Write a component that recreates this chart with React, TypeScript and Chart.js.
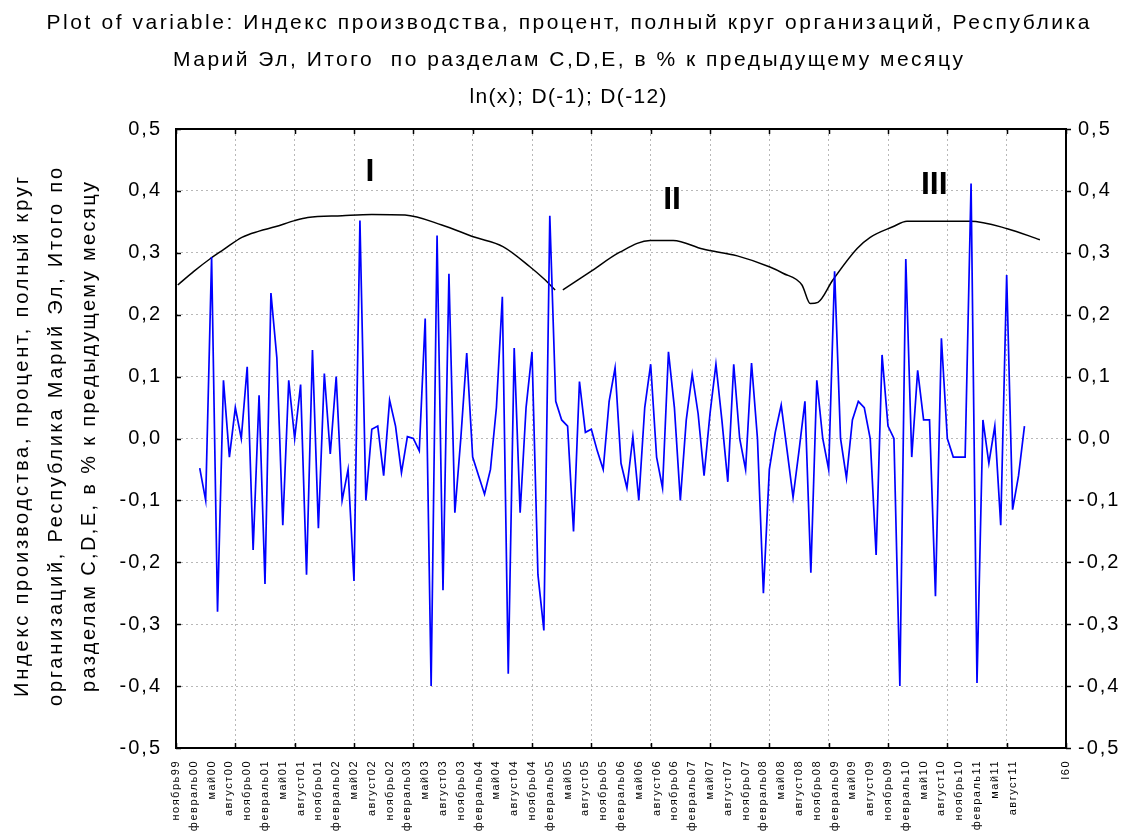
import React, { useEffect, useRef } from 'react';
import { Chart, registerables } from 'chart.js';

Chart.register(...registerables);

// ---------------- data ----------------
const titleLines = [
  'Plot of variable: Индекс производства, процент, полный круг организаций, Республика',
  'Марий Эл, Итого  по разделам C,D,E, в % к предыдущему месяцу',
  'ln(x); D(-1); D(-12)',
];

const yTitleLines = [
  'Индекс производства, процент, полный круг',
  'организаций, Республика Марий Эл, Итого по',
  'разделам C,D,E, в % к предыдущему месяцу',
];

const monthLabels = [
  'ноябрь99', 'февраль00', 'май00', 'август00',
  'ноябрь00', 'февраль01', 'май01', 'август01',
  'ноябрь01', 'февраль02', 'май02', 'август02',
  'ноябрь02', 'февраль03', 'май03', 'август03',
  'ноябрь03', 'февраль04', 'май04', 'август04',
  'ноябрь04', 'февраль05', 'май05', 'август05',
  'ноябрь05', 'февраль06', 'май06', 'август06',
  'ноябрь06', 'февраль07', 'май07', 'август07',
  'ноябрь07', 'февраль08', 'май08', 'август08',
  'ноябрь08', 'февраль09', 'май09', 'август09',
  'ноябрь09', 'февраль10', 'май10', 'август10',
  'ноябрь10', 'февраль11', 'май11', 'август11',
];
const monthLabelStart = 0;
const monthLabelStep = 3;
const endLabel = 'I60';
const endLabelPos = 150;

const xMin = 0;
const xMax = 150;
const xGridStep = 10;

const yMin = -0.5;
const yMax = 0.5;
const yStep = 0.1;

// monthly series (first case index = seriesStart)
const seriesStart = 4;
const seriesValues = [
  -0.048, -0.10, 0.293, -0.28, 0.094, -0.03, 0.05, 0.00, 0.116, -0.18,
  0.07, -0.235, 0.235, 0.13, -0.14, 0.094, 0.00, 0.087, -0.22, 0.143,
  -0.145, 0.105, -0.025, 0.10, -0.10, -0.05, -0.23, 0.352, -0.10, 0.015,
  0.02, -0.06, 0.062, 0.02, -0.055, 0.003, 0.00, -0.02, 0.194, -0.40,
  0.328, -0.245, 0.266, -0.12, 0.00, 0.138, -0.03, -0.06, -0.09, -0.05,
  0.05, 0.229, -0.38, 0.146, -0.12, 0.05, 0.14, -0.22, -0.31, 0.36,
  0.06, 0.03, 0.02, -0.15, 0.092, 0.01, 0.015, -0.02, -0.05, 0.06,
  0.114, -0.04, -0.08, 0.003, -0.10, 0.05, 0.12, -0.03, -0.08, 0.14,
  0.05, -0.10, 0.03, 0.104, 0.04, -0.06, 0.04, 0.12, 0.03, -0.07,
  0.12, 0.00, -0.05, 0.122, 0.00, -0.25, -0.05, 0.01, 0.054, -0.02,
  -0.095, -0.02, 0.06, -0.217, 0.094, 0.00, -0.05, 0.27, 0.00, -0.064,
  0.03, 0.06, 0.05, 0.00, -0.188, 0.135, 0.02, 0.00, -0.40, 0.29,
  -0.03, 0.11, 0.03, 0.03, -0.255, 0.162, 0.00, -0.03, -0.03, -0.03,
  0.412, -0.395, 0.03, -0.04, 0.02, -0.14, 0.264, -0.115, -0.06, 0.02,
];

// smooth black envelope curve (null = break)
const envelopeX = [
  0.3, 3, 5.7, 8, 11.1, 14, 16.7, 20, 22.2, 28, 33, 38.6, 44.8, 50.4, 55.1, 59.7, 62, 63.9,
  64.5,
  65.2, 69.8, 74.8, 79.9, 83.8, 88.8, 94.6, 100.1, 102.3, 105.5, 106.9, 108.2, 110.7,
  114.8, 117, 120.8, 123.2, 133.8, 140.1, 145.6,
];
const envelopeY = [
  0.248, 0.27, 0.29, 0.305, 0.325, 0.335, 0.342, 0.352, 0.357, 0.36, 0.362, 0.361, 0.345, 0.325, 0.31, 0.277, 0.258, 0.24,
  null,
  0.24, 0.269, 0.301, 0.32, 0.32, 0.306, 0.295, 0.277, 0.267, 0.248, 0.218, 0.22, 0.256,
  0.307, 0.325, 0.342, 0.351, 0.351, 0.339, 0.321,
];

const regionLabels = ['I', 'II', 'III'];
const regionX = [32.7, 83.6, 127.8];
const regionY = [0.43, 0.385, 0.41];

// ---------------- helpers ----------------
const FONT = "'Liberation Sans', Arial, sans-serif";

const labelPositions: number[] = monthLabels.map((_, i) => monthLabelStart + i * monthLabelStep).concat([endLabelPos]);
const labelTexts: string[] = monthLabels.concat([endLabel]);

function fmt(v: number) {
  if (Math.abs(v) < 1e-9) return '0,0';
  return v.toFixed(1).replace('.', ',');
}

function wrapSpacing(scale: any, ls: string) {
  if (scale.__wrapped) return;
  const orig = scale.drawLabels.bind(scale);
  scale.drawLabels = (area: any) => {
    const c = scale.ctx;
    const prev = c.letterSpacing;
    c.letterSpacing = ls;
    orig(area);
    c.letterSpacing = prev || '0px';
  };
  scale.__wrapped = true;
}

function drawSpaced(ctx: any, text: string, cx: number, cy: number, target: number) {
  ctx.letterSpacing = '0px';
  const w0 = ctx.measureText(text).width;
  const n = Math.max(1, text.length - 1);
  const ls = Math.max(0, (target - w0) / n);
  ctx.letterSpacing = ls + 'px';
  ctx.textAlign = 'left';
  ctx.fillText(text, cx - target / 2, cy);
  ctx.letterSpacing = '0px';
}

const decorPlugin = {
  id: 'decor',
  afterDraw(chart: any) {
    const { ctx, chartArea: a, scales } = chart;
    ctx.save();
    // frame
    ctx.strokeStyle = '#000';
    ctx.lineWidth = 2;
    ctx.strokeRect(a.left, a.top, a.right - a.left, a.bottom - a.top);
    // tick marks
    ctx.lineWidth = 1.5;
    ctx.beginPath();
    const yS = scales.y;
    for (const t of yS.ticks) {
      const py = Math.round(yS.getPixelForValue(t.value)) + 0.5;
      ctx.moveTo(a.left, py);
      ctx.lineTo(a.left + 5, py);
      ctx.moveTo(a.right, py);
      ctx.lineTo(a.right + 5, py);
    }
    const gS = scales.xg;
    for (const t of gS.ticks) {
      const px = Math.round(gS.getPixelForValue(t.value)) + 0.5;
      ctx.moveTo(px, a.top);
      ctx.lineTo(px, a.top + 5);
      ctx.moveTo(px, a.bottom);
      ctx.lineTo(px, a.bottom - 5);
    }
    ctx.stroke();

    // region labels
    ctx.fillStyle = '#000';
    ctx.font = `bold 32px ${FONT}`;
    ctx.textAlign = 'center';
    ctx.textBaseline = 'middle';
    regionLabels.forEach((lab, i) => {
      ctx.fillText(lab, scales.x.getPixelForValue(regionX[i]), yS.getPixelForValue(regionY[i]));
    });

    // title
    ctx.font = `21px ${FONT}`;
    ctx.textBaseline = 'middle';
    const tY = [23, 60, 97];
    const tW = [1043, 790, 197];
    titleLines.forEach((line, i) => drawSpaced(ctx, line, 568, tY[i], tW[i]));

    // y-axis title
    ctx.font = `20px ${FONT}`;
    const yX = [22, 56, 89];
    const yW = [520, 538, 510];
    yTitleLines.forEach((line, i) => {
      ctx.save();
      ctx.translate(yX[i], 437);
      ctx.rotate(-Math.PI / 2);
      drawSpaced(ctx, line, 0, 0, yW[i]);
      ctx.restore();
    });
    ctx.restore();
  },
};

export default function App() {
  const ref = useRef<HTMLCanvasElement | null>(null);

  useEffect(() => {
    document.body.style.margin = '0';
    const canvas = ref.current;
    if (!canvas) return;

    const seriesData = seriesValues.map((v, i) => ({ x: seriesStart + i, y: v }));
    const envData = envelopeX.map((x, i) => ({ x, y: envelopeY[i] }));

    const chart = new Chart(canvas, {
      type: 'line',
      data: {
        datasets: [
          {
            data: seriesData as any,
            borderColor: '#0000ff',
            borderWidth: 1.7,
            pointRadius: 0,
            tension: 0,
            xAxisID: 'x',
            yAxisID: 'y',
          },
          {
            data: envData as any,
            borderColor: '#000000',
            borderWidth: 1.5,
            pointRadius: 0,
            tension: 0.4,
            cubicInterpolationMode: 'monotone',
            spanGaps: false,
            xAxisID: 'x',
            yAxisID: 'y',
          },
        ],
      },
      options: {
        responsive: false,
        animation: false,
        events: [],
        layout: { padding: { top: 129, left: 0, right: 0, bottom: 0 } },
        plugins: {
          legend: { display: false },
          title: { display: false },
          tooltip: { enabled: false },
        },
        scales: {
          x: {
            type: 'linear',
            position: 'bottom',
            min: xMin,
            max: xMax,
            afterBuildTicks: (s: any) => {
              s.ticks = labelPositions.map((v) => ({ value: v }));
            },
            afterFit: (s: any) => {
              s.height = 87;
              wrapSpacing(s, '1.5px');
            },
            ticks: {
              autoSkip: false,
              minRotation: 90,
              maxRotation: 90,
              padding: 12,
              color: '#000',
              font: { family: FONT, size: 11 },
              callback: (v: any) => {
                const i = labelPositions.indexOf(Number(v));
                return i >= 0 ? labelTexts[i] : '';
              },
            },
            grid: { display: false, drawTicks: false },
            border: { display: false },
          },
          xg: {
            type: 'linear',
            position: 'top',
            min: xMin,
            max: xMax,
            ticks: { display: false, stepSize: xGridStep },
            grid: { color: '#b8b8b8', lineWidth: 1, drawTicks: false },
            border: { display: false, dash: [2, 3] },
            afterFit: (s: any) => {
              s.height = 0;
            },
          },
          y: {
            type: 'linear',
            position: 'left',
            min: yMin,
            max: yMax,
            ticks: {
              stepSize: yStep,
              padding: 14,
              color: '#000',
              font: { family: FONT, size: 20 },
              callback: (v: any) => fmt(Number(v)),
            },
            grid: { color: '#b8b8b8', lineWidth: 1, drawTicks: false },
            border: { display: false, dash: [2, 3] },
            afterFit: (s: any) => {
              s.width = 176;
              wrapSpacing(s, '2px');
            },
          },
          y2: {
            type: 'linear',
            position: 'right',
            min: yMin,
            max: yMax,
            ticks: {
              stepSize: yStep,
              padding: 12,
              color: '#000',
              font: { family: FONT, size: 20 },
              callback: (v: any) => fmt(Number(v)),
            },
            grid: { display: false, drawTicks: false },
            border: { display: false },
            afterFit: (s: any) => {
              s.width = 59;
              wrapSpacing(s, '2px');
            },
          },
        },
      } as any,
      plugins: [decorPlugin],
    });

    return () => chart.destroy();
  }, []);

  return <canvas ref={ref} width={1125} height={835} style={{ display: 'block' }} />;
}
